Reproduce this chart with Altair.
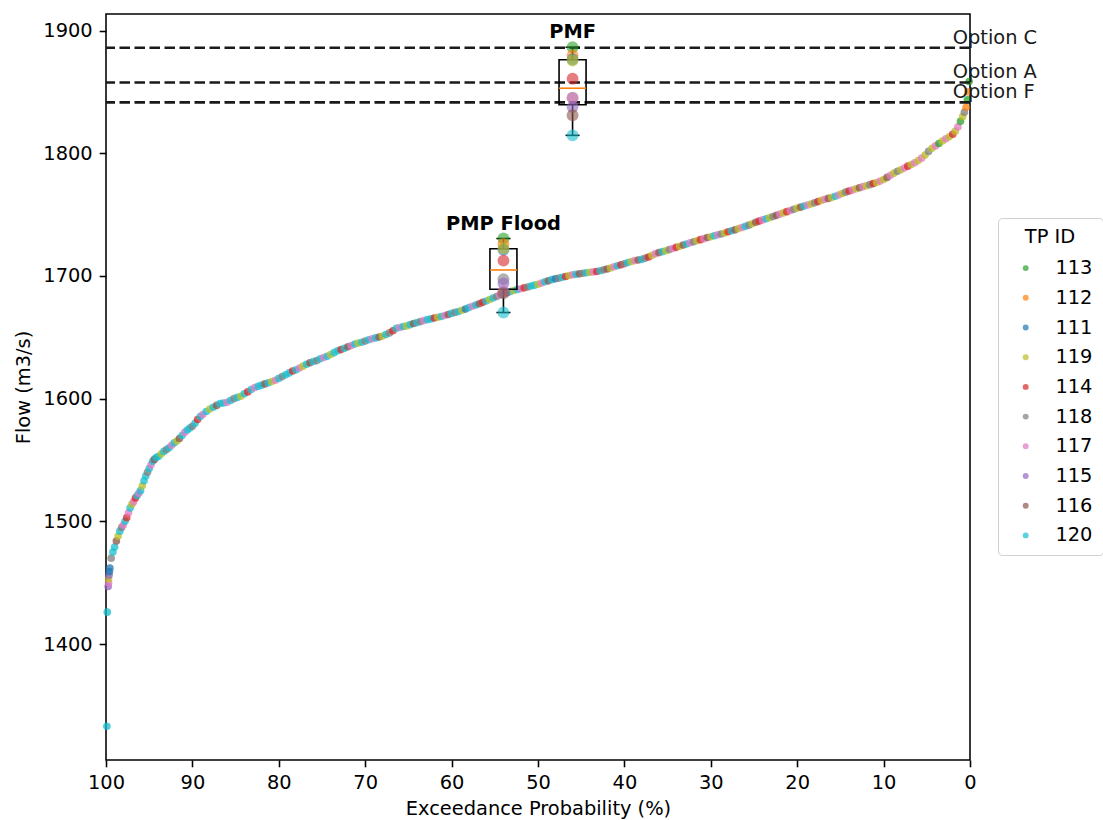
import altair as alt
import numpy as np
import pandas as pd

# ---------------- data ----------------
tp_order = ["113", "112", "111", "119", "114", "118", "117", "115", "116", "120"]
tp_colors = ["#2ca02c", "#ff7f0e", "#1f77b4", "#bcbd22", "#d62728",
             "#7f7f7f", "#e377c2", "#9467bd", "#8c564b", "#17becf"]

exceed = [
    99.9, 99.85, 99.75, 99.7, 99.7, 99.65, 99.6, 99.55, 99.4, 99.2,
    99.0, 98.8, 98.6, 98.4, 98.2, 98.0, 97.8, 97.6, 97.4, 97.2,
    97.0, 96.8, 96.6, 96.4, 96.2, 96.0, 95.8, 95.6, 95.4, 95.2,
    95.0, 94.8, 94.6, 94.4, 94.2,
    93.9, 93.6, 93.3, 93.0, 92.7, 92.4, 92.1, 91.8, 91.5, 91.2,
    90.9, 90.6, 90.3, 90.0, 89.7, 89.4, 89.1, 88.8,
    88.4, 88.0, 87.6, 87.2, 86.8, 86.4, 86.0, 85.6, 85.2, 84.8,
    84.4, 84.0, 83.6, 83.2, 82.8, 82.4, 82.0, 81.6, 81.2, 80.8,
    80.4, 80.0, 79.6, 79.2, 78.8, 78.4, 78.0, 77.6, 77.2, 76.8,
    76.4, 76.0, 75.6, 75.2, 74.8, 74.4, 74.0, 73.6, 73.2, 72.8,
    72.4, 72.0, 71.6, 71.2, 70.8, 70.4, 70.0, 69.6, 69.2, 68.8,
    68.4, 68.0, 67.6, 67.2, 66.8, 66.4, 66.0, 65.6, 65.2, 64.8,
    64.4, 64.0, 63.6, 63.2, 62.8, 62.4, 62.0, 61.6, 61.2, 60.8,
    60.4, 60.0, 59.6, 59.2, 58.8, 58.4, 58.0, 57.6, 57.2, 56.8,
    56.4, 56.0, 55.6, 55.2, 54.8, 54.4, 54.0, 53.6, 53.2, 52.8,
    52.4, 52.0, 51.6, 51.2, 50.8, 50.4, 50.0, 49.6, 49.2, 48.8,
    48.4, 48.0, 47.6, 47.2, 46.8, 46.4, 46.0, 45.6, 45.2, 44.8,
    44.4, 44.0, 43.6, 43.2, 42.8, 42.4, 42.0, 41.6, 41.2, 40.8,
    40.4, 40.0, 39.6, 39.2, 38.8, 38.4, 38.0, 37.6, 37.2, 36.8,
    36.4, 36.0, 35.6, 35.2, 34.8, 34.4, 34.0, 33.6, 33.2, 32.8,
    32.4, 32.0, 31.6, 31.2, 30.8, 30.4, 30.0, 29.6, 29.2, 28.8,
    28.4, 28.0, 27.6, 27.2, 26.8, 26.4, 26.0, 25.6, 25.2, 24.8,
    24.4, 24.0, 23.6, 23.2, 22.8, 22.4, 22.0, 21.6, 21.2, 20.8,
    20.4, 20.0, 19.6, 19.2, 18.8, 18.4, 18.0, 17.6, 17.2, 16.8,
    16.4, 16.0, 15.6, 15.2, 14.8, 14.4, 14.0, 13.6, 13.2, 12.8,
    12.4, 12.0, 11.6, 11.2, 10.8, 10.4, 10.0, 9.6, 9.2, 8.8,
    8.4, 8.0, 7.6, 7.2, 6.8, 6.4, 6.0, 5.6, 5.2, 4.8,
    4.4, 4.0, 3.6, 3.2, 2.8, 2.4, 2.0,
    1.7, 1.4, 1.1, 0.85, 0.65, 0.45, 0.3, 0.2, 0.1,
]

flow = [
    1333, 1426, 1447, 1450, 1453, 1456, 1459, 1462, 1470, 1475,
    1479, 1484, 1488, 1492, 1495, 1497, 1500, 1503, 1507, 1511,
    1514, 1516, 1519, 1521, 1523, 1525, 1529, 1533, 1537, 1540,
    1543, 1546, 1549, 1550.5, 1552,
    1553, 1555, 1557, 1558.5, 1560, 1562, 1564, 1565.5, 1567.5, 1570,
    1572.5, 1574.5, 1576, 1577.5, 1580, 1583, 1585.5, 1587,
    1589.5, 1591.5, 1593, 1594.5, 1596, 1596.5, 1597, 1598.5, 1600, 1601,
    1602, 1604, 1605.5, 1607.5, 1609, 1610, 1611, 1612, 1613, 1614,
    1615, 1616.5, 1618, 1619.5, 1621, 1622.5, 1623.5, 1625, 1626.5, 1628,
    1629.3, 1630.3, 1631, 1632.5, 1633.5, 1634.5, 1636, 1637.5, 1639, 1640,
    1641, 1642.3, 1643.3, 1644.5, 1645.3, 1646, 1647, 1648, 1648.8, 1649.5,
    1650.2, 1651, 1652.3, 1653.6, 1655.3, 1657.3, 1658, 1658.8, 1659.3, 1660.3,
    1661.2, 1662, 1662.8, 1663.6, 1664.4, 1665, 1665.7, 1666.4, 1667, 1667.8,
    1668.6, 1669.5, 1670.3, 1671, 1672, 1673, 1674.2, 1675.3, 1676.3, 1677.4,
    1678.5, 1679.6, 1680.8, 1682, 1683.3, 1684.6, 1685.5, 1686.4, 1687.3, 1688.2,
    1689, 1689.6, 1690.3, 1691, 1691.8, 1692.5, 1693.2, 1694.2, 1695.3, 1696,
    1697, 1697.7, 1698.2, 1699, 1699.6, 1700.4, 1700.9, 1701.3, 1701.7, 1702.2,
    1702.6, 1703, 1703.3, 1703.6, 1704.2, 1705, 1705.7, 1706.5, 1707.5, 1708.3,
    1709.1, 1710, 1711, 1711.8, 1712.5, 1713, 1713.5, 1714.5, 1715.5, 1716.8,
    1718.2, 1719, 1719.8, 1720.6, 1721.5, 1722.4, 1723.3, 1724.2, 1725.2, 1726,
    1727, 1727.8, 1728.7, 1729.6, 1730.4, 1731.3, 1732, 1732.8, 1733.5, 1734.2,
    1735, 1736, 1736.8, 1737.6, 1738.6, 1739.5, 1740.5, 1741.4, 1742.6, 1743.8,
    1744.7, 1745.7, 1746.6, 1747.5, 1748.5, 1749.4, 1750.4, 1751.4, 1752.4, 1753.3,
    1754.3, 1755.3, 1756.1, 1757, 1757.8, 1758.7, 1759.6, 1760.6, 1761.6, 1762.5,
    1763.2, 1764, 1765, 1766, 1767.2, 1768.3, 1769.2, 1770, 1771, 1771.9,
    1772.8, 1773.5, 1774.4, 1775.3, 1776.2, 1777.3, 1778.6, 1780.3, 1782, 1783.8,
    1785.3, 1786.6, 1788, 1789.5, 1790.8, 1792.3, 1794, 1796, 1798.5, 1801.5,
    1804, 1806, 1808, 1810, 1811.8, 1813.5, 1815.5,
    1818, 1821.5, 1826, 1830, 1833.5, 1837.5, 1843.5, 1850, 1858.5,
]

tp_id = [
    120, 120, 115, 117, 119, 115, 111, 111, 118, 120, 120, 116, 119, 120, 118, 117, 120, 114, 117, 120,
    119, 117, 114, 120, 117, 120, 119, 120, 120, 118, 120, 117, 120, 116, 120, 120, 119, 120, 118, 120,
    117, 120, 119, 116, 120, 117, 120, 120, 118, 120, 114, 120, 117, 120, 119, 120, 116, 120, 120, 117,
    120, 118, 120, 119, 120, 114, 120, 117, 120, 120, 116, 120, 119, 117, 120, 118, 120, 120, 114, 120,
    117, 119, 120, 116, 120, 118, 120, 117, 120, 119, 120, 120, 114, 120, 116, 117, 120, 119, 120, 118,
    120, 117, 120, 116, 119, 120, 118, 114, 120, 117, 120, 119, 120, 116, 120, 118, 117, 120, 120, 114,
    119, 120, 117, 116, 120, 118, 120, 119, 111, 120, 117, 120, 116, 114, 120, 119, 120, 118, 117, 120,
    116, 120, 119, 120, 117, 114, 118, 120, 120, 119, 117, 120, 116, 120, 111, 118, 120, 114, 119, 117,
    120, 116, 118, 120, 119, 117, 114, 120, 118, 116, 119, 117, 120, 114, 118, 120, 119, 117, 116, 120,
    118, 114, 119, 117, 116, 120, 119, 118, 117, 114, 119, 116, 120, 117, 118, 119, 114, 117, 116, 119,
    120, 117, 118, 119, 114, 120, 116, 119, 117, 120, 118, 119, 116, 114, 117, 120, 119, 118, 116, 117,
    119, 114, 117, 118, 119, 116, 120, 117, 119, 118, 114, 119, 117, 116, 119, 120, 117, 119, 118, 114,
    117, 119, 116, 117, 119, 118, 114, 119, 117, 119, 116, 117, 119, 118, 119, 117, 114, 119, 117, 119,
    117, 119, 118, 119, 117, 113, 119, 117, 119, 114, 119, 117, 113, 119, 118, 112, 113, 112, 113,
]

assert len(exceed) == len(flow) == len(tp_id), (len(exceed), len(flow), len(tp_id))

# design events (values listed in tp_order)
event_names = ["PMP Flood", "PMF"]
event_exceed = [54, 46]
pmp_flood_flow = [1730.5, 1726.0, 1721.4, 1722.5, 1712.5, 1697.3, 1687.5, 1694.0, 1685.9, 1670.2]
pmf_flow = [1886.4, 1879.7, 1876.4, 1875.6, 1860.7, 1845.3, 1845.0, 1837.7, 1831.0, 1814.6]
event_flows = [pmp_flood_flow, pmf_flow]

option_names = ["Option C", "Option A", "Option F"]
option_flow = [1886.0, 1857.7, 1841.5]
option_label_exceed = 2.0

x_ticks = [100, 90, 80, 70, 60, 50, 40, 30, 20, 10, 0]
y_ticks = [1400, 1500, 1600, 1700, 1800, 1900]

# ---------------- frames ----------------
curve_df = pd.DataFrame({"Exceedance": exceed, "Flow": flow,
                         "TP ID": [str(t) for t in tp_id]})

pt_rows, box_rows = [], []
for name, xp, vals in zip(event_names, event_exceed, event_flows):
    for tp, v in zip(tp_order, vals):
        pt_rows.append({"Exceedance": xp, "Flow": v, "TP ID": tp})
    q1, med, q3 = np.percentile(vals, [25, 50, 75])
    box_rows.append({"Exceedance": xp, "q1": q1, "med": med, "q3": q3,
                     "lo": min(vals), "hi": max(vals), "name": name,
                     "label_y": max(vals) + 4.0})
pts_df = pd.DataFrame(pt_rows)
box_df = pd.DataFrame(box_rows)
opt_df = pd.DataFrame({"Flow": option_flow, "name": option_names,
                       "Exceedance": [option_label_exceed] * len(option_names)})

# ---------------- encodings ----------------
FS = 19.4
xscale = alt.Scale(domain=[0, 100], reverse=True, nice=False, zero=False, padding=0)
yscale = alt.Scale(domain=[1305.5, 1913.5], nice=False, zero=False, padding=0)
xaxis = alt.Axis(values=x_ticks, title="Exceedance Probability (%)", format="d",
                 labelFlush=False)
yaxis = alt.Axis(values=y_ticks, title="Flow (m3/s)", format="d", labelFlush=False)


def X(field="Exceedance"):
    return alt.X(f"{field}:Q", scale=xscale, axis=xaxis, title="Exceedance Probability (%)")


def Y(field="Flow"):
    return alt.Y(f"{field}:Q", scale=yscale, axis=yaxis, title="Flow (m3/s)")


color_enc = alt.Color("TP ID:N", scale=alt.Scale(domain=tp_order, range=tp_colors),
                      legend=alt.Legend(title="TP ID", orient="none", legendX=892, legendY=204))

curve = alt.Chart(curve_df).mark_circle(size=58, opacity=0.75).encode(
    x=X(), y=Y(), color=color_enc)

opt_rules = alt.Chart(opt_df).mark_rule(color="#1a1a1a", strokeWidth=2.6,
                                        strokeDash=[10.5, 4.5]).encode(y=Y())

box = alt.Chart(box_df).mark_bar(size=27, fillOpacity=0, stroke="black",
                                 strokeWidth=1.6).encode(x=X(), y=Y("q1"), y2="q3:Q")
whisk_hi = alt.Chart(box_df).mark_rule(color="black", strokeWidth=1.6).encode(
    x=X(), y=Y("q3"), y2="hi:Q")
whisk_lo = alt.Chart(box_df).mark_rule(color="black", strokeWidth=1.6).encode(
    x=X(), y=Y("lo"), y2="q1:Q")
cap_hi = alt.Chart(box_df).mark_tick(orient="horizontal", size=14, thickness=1.6,
                                     color="black", opacity=1).encode(x=X(), y=Y("hi"))
cap_lo = alt.Chart(box_df).mark_tick(orient="horizontal", size=14, thickness=1.6,
                                     color="black", opacity=1).encode(x=X(), y=Y("lo"))
median = alt.Chart(box_df).mark_tick(orient="horizontal", size=27, thickness=1.6,
                                     color="#ff7f0e", opacity=1).encode(x=X(), y=Y("med"))

dots = alt.Chart(pts_df).mark_circle(size=140, opacity=0.6).encode(
    x=X(), y=Y(), color=color_enc)

event_text = alt.Chart(box_df).mark_text(fontSize=FS, fontWeight="bold", align="center",
                                         baseline="bottom", color="black").encode(
    x=X(), y=Y("label_y"), text="name:N")

opt_text = alt.Chart(opt_df).mark_text(fontSize=FS, align="left", baseline="bottom",
                                       color="#1a1a1a").encode(
    x=X(), y=Y(), text="name:N")

chart = alt.layer(curve, opt_rules, box, whisk_hi, whisk_lo, cap_hi, cap_lo, median,
                  dots, event_text, opt_text).properties(
    width=864, height=746,
    autosize=alt.AutoSizeParams(type="none"),
    padding={"left": 106, "top": 14, "right": 133, "bottom": 60},
    background="white",
).configure(font="DejaVu Sans").configure_view(
    stroke="black", strokeWidth=1.56
).configure_axis(
    grid=False, domain=False, labelFontSize=FS, titleFontSize=FS,
    labelColor="black", titleColor="black", tickColor="black",
    tickWidth=1.56, tickSize=6.8, labelPadding=7, titleFontWeight="normal",
    labelFont="DejaVu Sans", titleFont="DejaVu Sans",
).configure_axisX(titlePadding=7).configure_axisY(titlePadding=9).configure_legend(
    padding=10, strokeColor="#d0d0d0", cornerRadius=4, fillColor="white",
    titleFontSize=FS, titleFontWeight="normal", titleColor="black",
    labelFontSize=FS, labelColor="black", symbolSize=35, symbolType="circle",
    symbolOpacity=0.7, symbolStrokeWidth=0, rowPadding=8.7, titlePadding=11,
    labelOffset=20, symbolOffset=8, titleAnchor="middle",
    labelFont="DejaVu Sans", titleFont="DejaVu Sans",
)

chart.save("out.html", embed_options={"renderer": "svg", "actions": False})
